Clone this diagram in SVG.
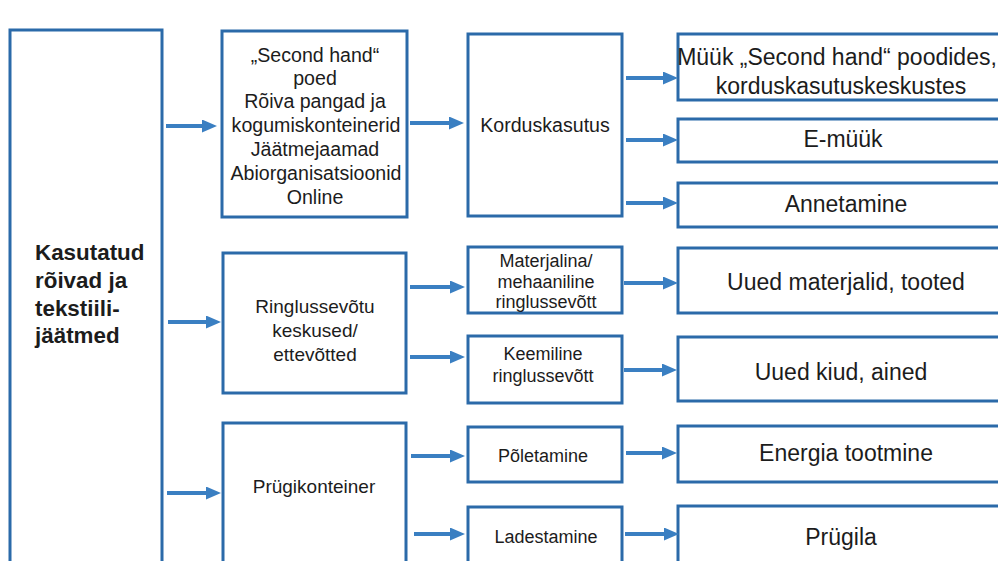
<svg xmlns="http://www.w3.org/2000/svg" width="998" height="561" viewBox="0 0 998 561">
<defs>
<style>
.box{fill:#ffffff;stroke:#2b6aa9;stroke-width:3}
.t{font-family:"Liberation Sans",Arial,sans-serif;fill:#1c1c1c;text-anchor:middle}
.m{font-size:19px}
.w{font-size:19.6px}
.s{font-size:18px}
.r{font-size:23px}
.b{font-family:"Liberation Sans",Arial,sans-serif;font-size:22.4px;font-weight:bold;fill:#1c1c1c}
.c line{stroke:#3a7fc2;stroke-width:4;marker-end:url(#ah)}
</style>
<marker id="ah" markerUnits="userSpaceOnUse" markerWidth="15" markerHeight="13" refX="1" refY="6.5" orient="auto">
<path d="M0,0 L15,6.5 L0,13 z" fill="#3a7fc2"/>
</marker>
</defs>
<rect width="998" height="561" fill="#ffffff"/>

<g id="source">
<rect class="box" x="10" y="30" width="152" height="560"/>
<text class="b" x="35" y="260">Kasutatud</text>
<text class="b" x="35" y="288">rõivad ja</text>
<text class="b" x="35" y="316">tekstiili-</text>
<text class="b" x="35" y="343">jäätmed</text>
</g>

<g id="collection">
<rect class="box" x="222" y="31" width="185" height="186"/>
<text class="t w" x="315" y="62">„Second hand“</text>
<text class="t w" x="315" y="85">poed</text>
<text class="t w" x="315" y="108">Rõiva pangad ja</text>
<text class="t w" x="316" y="132">kogumiskonteinerid</text>
<text class="t w" x="315" y="156">Jäätmejaamad</text>
<text class="t w" x="316" y="180">Abiorganisatsioonid</text>
<text class="t w" x="315" y="204">Online</text>
</g>

<g id="recycling-centres">
<rect class="box" x="223" y="253" width="183" height="140"/>
<text class="t m" x="315" y="313">Ringlussevõtu</text>
<text class="t m" x="315" y="337">keskused/</text>
<text class="t m" x="315" y="361">ettevõtted</text>
</g>

<g id="bin">
<rect class="box" x="223" y="423" width="183" height="170"/>
<text class="t m" x="314" y="493">Prügikonteiner</text>
</g>

<g id="reuse">
<rect class="box" x="468" y="34" width="154" height="182"/>
<text class="t w" x="545" y="132">Korduskasutus</text>
</g>

<g id="mechanical">
<rect class="box" x="468" y="247" width="154" height="66"/>
<text class="t s" x="546" y="267">Materjalina/</text>
<text class="t s" x="546" y="288">mehaaniline</text>
<text class="t s" x="546" y="308">ringlussevõtt</text>
</g>

<g id="chemical">
<rect class="box" x="468" y="336" width="154" height="67"/>
<text class="t s" x="543" y="360">Keemiline</text>
<text class="t s" x="543" y="382">ringlussevõtt</text>
</g>

<g id="incineration">
<rect class="box" x="468" y="427" width="154" height="55"/>
<text class="t s" x="543" y="462">Põletamine</text>
</g>

<g id="landfilling">
<rect class="box" x="468" y="507" width="154" height="80"/>
<text class="t s" x="546" y="543">Ladestamine</text>
</g>

<g id="sale">
<rect class="box" x="678" y="34" width="340" height="66"/>
<text class="t r" x="837" y="65">Müük „Second hand“ poodides,</text>
<text class="t r" x="841" y="94">korduskasutuskeskustes</text>
</g>

<g id="e-sale">
<rect class="box" x="678" y="119" width="340" height="43"/>
<text class="t r" x="843" y="147">E-müük</text>
</g>

<g id="donation">
<rect class="box" x="678" y="183" width="340" height="44"/>
<text class="t r" x="846" y="212">Annetamine</text>
</g>

<g id="new-materials">
<rect class="box" x="678" y="248" width="340" height="65"/>
<text class="t r" x="846" y="290">Uued materjalid, tooted</text>
</g>

<g id="new-fibres">
<rect class="box" x="678" y="337" width="340" height="64"/>
<text class="t r" x="841" y="380">Uued kiud, ained</text>
</g>

<g id="energy">
<rect class="box" x="678" y="426" width="340" height="56"/>
<text class="t r" x="846" y="461">Energia tootmine</text>
</g>

<g id="landfill">
<rect class="box" x="678" y="506" width="340" height="90"/>
<text class="t r" x="841" y="545">Prügila</text>
</g>

<g id="connectors" class="c">
<line x1="166" y1="126" x2="203" y2="126"/>
<line x1="168" y1="322" x2="207" y2="322"/>
<line x1="167" y1="493" x2="207" y2="493"/>
<line x1="410" y1="123" x2="450" y2="123"/>
<line x1="410" y1="287" x2="451" y2="287"/>
<line x1="410" y1="357" x2="451" y2="357"/>
<line x1="411" y1="456" x2="451" y2="456"/>
<line x1="414" y1="534" x2="451" y2="534"/>
<line x1="626" y1="78" x2="664" y2="78"/>
<line x1="626" y1="140" x2="664" y2="140"/>
<line x1="626" y1="203" x2="664" y2="203"/>
<line x1="624" y1="283" x2="664" y2="283"/>
<line x1="624" y1="370" x2="663" y2="370"/>
<line x1="626" y1="453" x2="663" y2="453"/>
<line x1="625" y1="534" x2="665" y2="534"/>
</g>
</svg>
